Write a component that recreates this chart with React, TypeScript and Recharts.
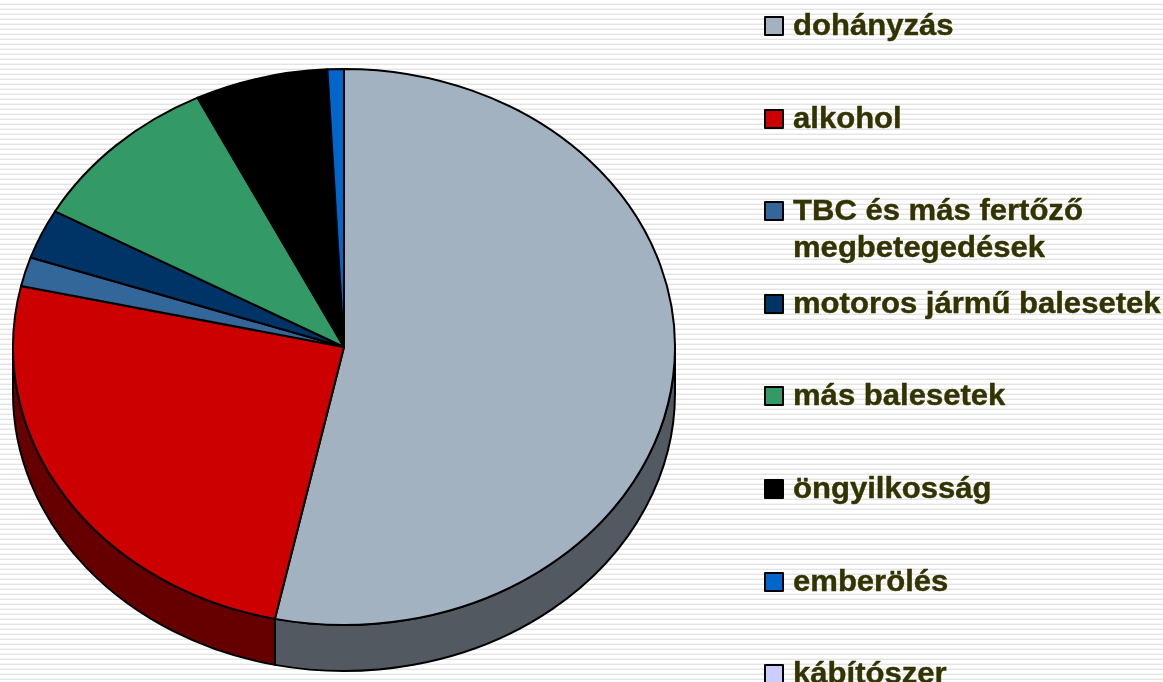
import React from "react";
import { Legend, Pie, PieChart } from "recharts";

const WIDTH = 1163;
const HEIGHT = 682;
const CX = 344;
const CY = 347;
const RX = 331;
const RY = 278;
const DEPTH = 46;

const categories = [
  "dohányzás",
  "alkohol",
  "TBC és más fertőző megbetegedések",
  "motoros jármű balesetek",
  "más balesetek",
  "öngyilkosság",
  "emberölés",
  "kábítószer",
];
const shares = [53.4, 25.2, 1.7, 2.9, 9.6, 6.5, 0.8, 0];
const colors = ["#a3b2c1", "#cc0000", "#336699", "#003366", "#339966", "#000000", "#0066cc", "#ccccff"];
const wallColors = ["#525961", "#660000", "#1a334d", "#001a33", "#1a4d33", "#000000", "#003366", "#666680"];

const chartData = categories.map((name, i) => ({ name, value: shares[i], fill: colors[i] }));
const wallData = categories.map((name, i) => ({ name, value: shares[i], fill: wallColors[i] }));

// the pie is a tilted disc, so angles get projected on an ellipse
const pt = (deg: number, dy = 0) => {
  const a = (deg * Math.PI) / 180;
  return `${CX + RX * Math.cos(a)} ${CY + dy - RY * Math.sin(a)}`;
};

const TopSlice = (props: any) => {
  const { startAngle, endAngle, fill } = props;
  const large = Math.abs(startAngle - endAngle) > 180 ? 1 : 0;
  const d = `M ${CX} ${CY} L ${pt(startAngle)} A ${RX} ${RY} 0 ${large} 1 ${pt(endAngle)} Z`;
  return <path d={d} fill={fill} stroke="#000" strokeWidth={2} strokeLinejoin="round" />;
};

const WallSlice = (props: any) => {
  const { startAngle, endAngle, fill } = props;
  const s = Math.min(startAngle, 0);
  const e = Math.max(endAngle, -180);
  if (s <= e) return <g />;
  const d = `M ${pt(s)} A ${RX} ${RY} 0 0 1 ${pt(e)} L ${pt(e, DEPTH)} A ${RX} ${RY} 0 0 0 ${pt(s, DEPTH)} Z`;
  return <path d={d} fill={fill} stroke="#000" strokeWidth={2} strokeLinejoin="round" />;
};

const renderLegend = ({ payload }: any) => (
  <div style={{ position: "relative", width: 399, height: HEIGHT }}>
    {(payload || [])
      .filter((item: any) => item.type !== "none")
      .map((item: any, i: number) => (
        <div key={item.value} style={{ position: "absolute", left: 0, top: 25 + i * 92.6 - 18, display: "flex" }}>
          <span
            style={{
              width: 16,
              height: 16,
              marginTop: 9,
              marginRight: 9,
              flex: "none",
              background: item.color,
              border: "2px solid #000",
              borderRadius: 1,
            }}
          />
          <span
            style={{
              width: 358,
              fontFamily: "Liberation Sans",
              fontWeight: 700,
              fontSize: 30,
              lineHeight: "36.5px",
              color: "#333300",
              WebkitTextStroke: "0.4px #333300",
              transform: "scaleX(1.035)",
              transformOrigin: "left",
            }}
          >
            {item.value}
          </span>
        </div>
      ))}
  </div>
);

export default function App() {
  return (
    <div
      style={{
        position: "fixed",
        left: 0,
        top: 0,
        width: WIDTH,
        height: HEIGHT,
        overflow: "hidden",
        background: "linear-gradient(#fff 0 3px, #f4f4f4 3px 4px, #e4e4e4 4px 5px)",
        backgroundSize: "100% 5px",
      }}
    >
      <PieChart width={WIDTH} height={HEIGHT} margin={{ top: 0, right: 0, bottom: 0, left: 0 }}>
        <Pie
          data={wallData}
          dataKey="value"
          nameKey="name"
          cx={CX}
          cy={CY}
          outerRadius={RX}
          startAngle={90}
          endAngle={-270}
          legendType="none"
          shape={WallSlice}
          isAnimationActive={false}
        />
        <Pie
          data={chartData}
          dataKey="value"
          nameKey="name"
          cx={CX}
          cy={CY}
          outerRadius={RX}
          startAngle={90}
          endAngle={-270}
          shape={TopSlice}
          isAnimationActive={false}
        />
        <Legend
          content={renderLegend}
          itemSorter={null}
          wrapperStyle={{ left: 764, top: 0, width: 399, height: HEIGHT }}
        />
      </PieChart>
    </div>
  );
}
